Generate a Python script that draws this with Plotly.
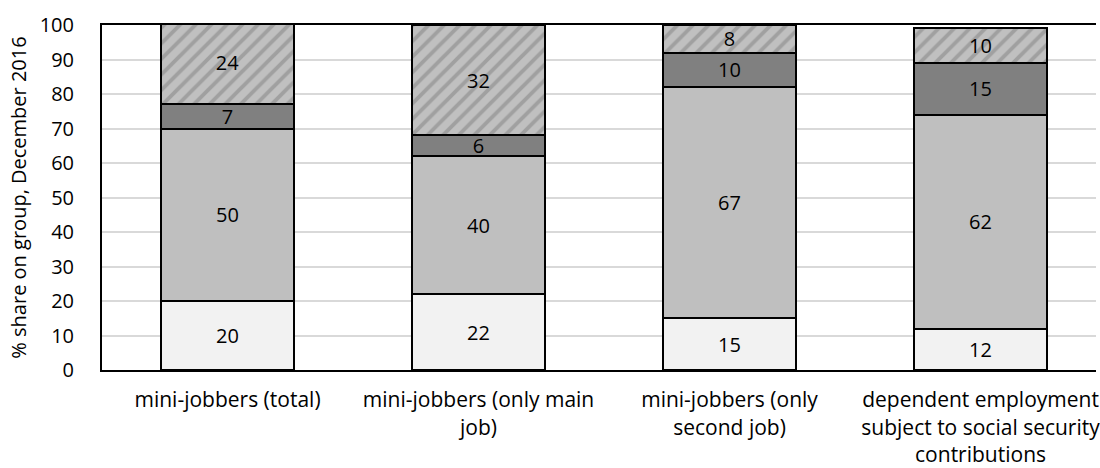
import plotly.graph_objects as go

# Employment groups on the x axis
categories = [
    "mini-jobbers (total)",
    "mini-jobbers (only main<br>job)",
    "mini-jobbers (only<br>second job)",
    "dependent employment<br>subject to social security<br>contributions",
]

# Stacked shares (%), bottom to top
share_1 = [20, 22, 15, 12]
share_2 = [50, 40, 67, 62]
share_3 = [7, 6, 10, 15]
share_4 = [24, 32, 8, 10]

y_ticks = [0, 10, 20, 30, 40, 50, 60, 70, 80, 90, 100]

FONT = "Open Sans"
TXT = dict(family=FONT, size=20, color="black")
CAT = dict(family=FONT, size=21, color="black")

fig = go.Figure()

series = [
    ("group 1", share_1, dict(color="#f2f2f2")),
    ("group 2", share_2, dict(color="#bfbfbf")),
    ("group 3", share_3, dict(color="#808080")),
    ("group 4", share_4, dict(color="#bfbfbf",
                              pattern=dict(shape="/", fgcolor="#808080", bgcolor="#c0c0c0",
                                           size=11, solidity=0.35))),
]

for name, vals, marker in series:
    fig.add_trace(go.Bar(
        x=categories, y=vals, name=name,
        marker=dict(line=dict(color="black", width=2), **marker),
        text=[str(v) for v in vals],
        textposition="inside", insidetextanchor="middle",
        textangle=0,
        textfont=TXT,
        width=0.53,
        cliponaxis=True,
    ))

fig.update_layout(
    barmode="stack",
    width=1100, height=468,
    margin=dict(l=102, r=0, t=25, b=97),
    plot_bgcolor="white", paper_bgcolor="white",
    showlegend=False,
    uniformtext=dict(mode="show", minsize=20),
    font=dict(family=FONT, size=20, color="black"),
)

fig.update_xaxes(
    range=[-0.5, 3.46],
    showline=True, linecolor="black", linewidth=2, mirror=True,
    ticks="", showgrid=False,
    tickfont=CAT,
    ticklabelstandoff=10,
)

fig.update_yaxes(
    range=[0, 100], tickvals=y_ticks,
    showline=True, linecolor="black", linewidth=2,
    showgrid=True, gridcolor="#d9d9d9", gridwidth=2,
    ticks="", tickfont=TXT, ticklabelstandoff=22,
    zeroline=False,
    title=dict(text="% share on group, December 2016", font=TXT, standoff=8),
)

fig.write_html("out.html")
